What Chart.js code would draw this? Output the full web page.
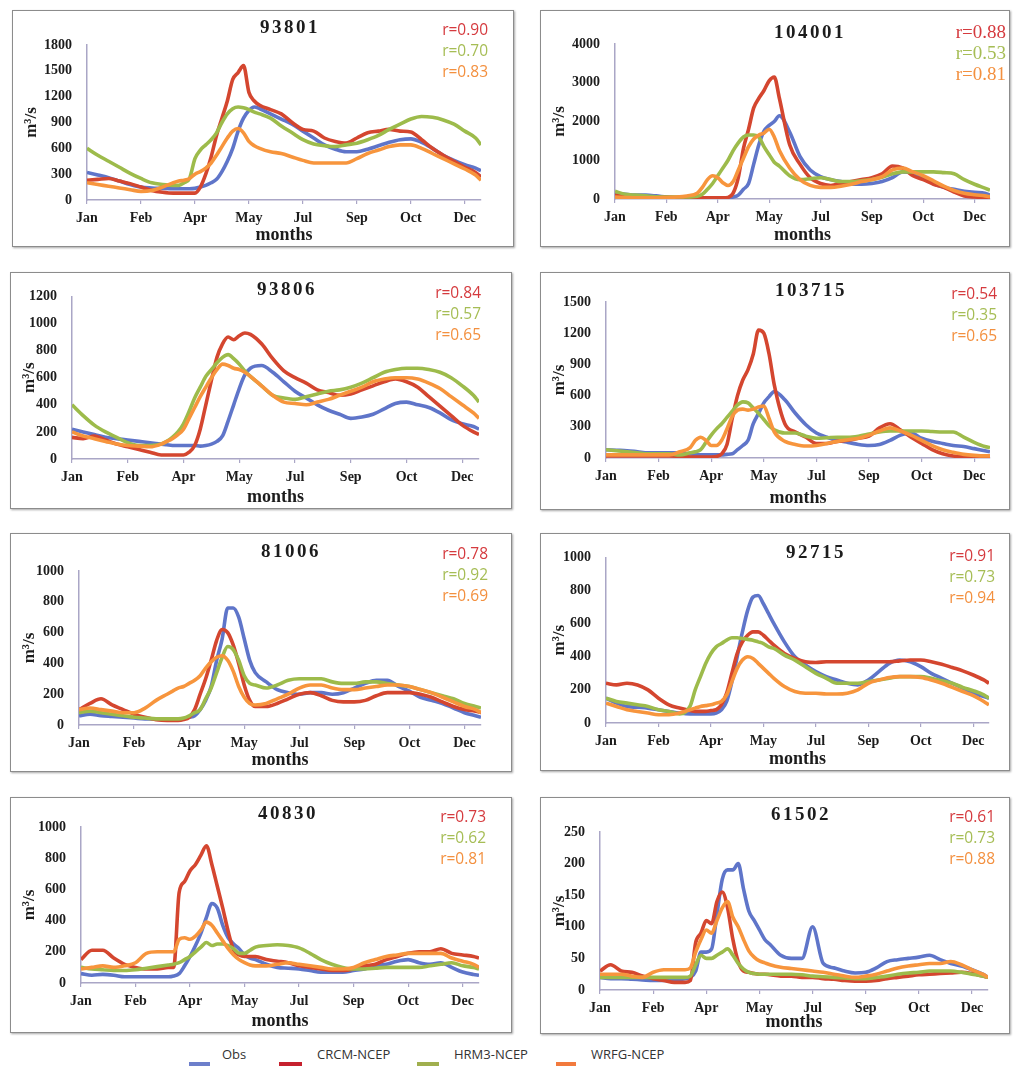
<!DOCTYPE html>
<html>
<head>
<meta charset="utf-8">
<title>Daily mean streamflow at eight stations</title>
<script src="https://cdn.jsdelivr.net/npm/chart.js@4.4.1/dist/chart.umd.min.js"></script>
<style>
  html, body { margin: 0; padding: 0; background: #ffffff; }
  body { position: relative; width: 1013px; height: 1076px; overflow: hidden; }
  .panel { position: absolute; border: 1px solid #8c8c8c; box-shadow: 1px 1px 2px rgba(0,0,0,0.35); background: #fff; }
  .panel canvas { display: block; }
  .swatch { position: absolute; height: 4px; }
  .keylabel { position: absolute; font-family: "Open Sans", sans-serif; font-size: 13px; line-height: 18px; color: #333; white-space: nowrap; }
</style>
</head>
<body>
<script>
// ---------- data ----------
// day of year at which each value is sampled (denser through the spring freshet)
const days = [0,10,20,30,40,50,60,70,80,85, 90,95,100,105,110,115,120,125,130,135,
              140,145,150,155,160,170,180,190,200,210, 220,230,240,250,260,270,280,290,300,310,
              320,330,340,350,360,365];

const tickDays   = [0, 50, 100, 150, 200, 250, 300, 350];
const tickMonths = ['Jan', 'Feb', 'Apr', 'May', 'Jul', 'Sep', 'Oct', 'Dec'];

const seriesNames = ['Obs', 'CRCM-NCEP', 'HRM3-NCEP', 'WRFG-NCEP'];
const stations    = ['93801', '104001', '93806', '103715', '81006', '92715', '40830', '61502'];
const yMaxima     = [1800, 4000, 1200, 1500, 1000, 1000, 1000, 250];
const yStepSizes  = [300, 1000, 200, 300, 200, 200, 200, 50];

// correlation with observations (CRCM, HRM3, WRFG)
const rCRCM = [0.90, 0.88, 0.84, 0.54, 0.78, 0.91, 0.73, 0.61];
const rHRM3 = [0.70, 0.53, 0.57, 0.35, 0.92, 0.73, 0.62, 0.73];
const rWRFG = [0.83, 0.81, 0.65, 0.65, 0.69, 0.94, 0.81, 0.88];

// 93801
const obs93801  = [320,290,260,220,180,150,140,135,130,130, 130,130,135,150,170,200,240,330,450,600, 800,950,1040,1080,1060,1000,940,880,800,720, 640,590,560,560,590,630,670,700,710,670, 600,520,460,410,370,340];
const crcm93801 = [230,240,250,220,190,150,110,90,80,80, 80,80,80,150,300,500,750,950,1150,1400, 1480,1560,1250,1150,1100,1050,1000,900,820,800, 720,680,660,720,780,800,820,800,790,700, 600,520,450,380,320,270];
const hrm93801  = [600,520,450,380,310,250,200,180,170,170, 200,250,480,580,640,700,780,900,1000,1060, 1080,1070,1050,1020,1000,950,860,780,700,650, 630,620,640,660,700,750,820,880,940,970, 960,930,880,800,720,640];
const wrfg93801 = [200,180,160,140,120,100,110,150,200,220, 230,250,300,330,370,430,520,620,720,800, 830,780,680,630,600,560,540,500,460,430, 430,430,430,480,540,580,620,640,640,600, 540,480,420,360,290,230];

// 104001
const obs104001  = [150,120,100,100,80,50,30,30,30,30, 30,30,30,30,30,50,100,250,400,900, 1400,1750,1900,2000,2150,1730,1100,750,580,500, 450,380,380,400,450,550,700,660,550,400, 300,250,200,170,150,100];
const crcm104001 = [100,80,50,50,50,50,40,30,30,30, 30,30,30,30,40,150,550,1300,1800,2350, 2600,2800,3050,3150,2600,1400,900,550,400,350, 400,450,500,550,650,850,800,600,500,380, 300,180,80,50,40,30];
const hrm104001  = [200,120,100,80,60,50,50,50,70,120, 250,400,600,800,1000,1250,1450,1600,1650,1650, 1600,1350,1150,950,850,600,500,520,550,500, 450,450,470,500,560,650,700,700,700,700, 680,650,500,380,280,230];
const wrfg104001 = [50,40,30,30,30,40,50,80,150,300, 500,600,550,420,350,450,750,1050,1350,1550, 1650,1700,1800,1600,1250,800,500,350,300,300, 330,380,450,500,580,750,800,700,600,470, 330,220,150,110,80,60];

// 93806
const obs93806  = [220,200,180,160,150,140,130,120,110,105, 100,100,100,100,100,95,100,110,130,170, 280,400,520,620,670,690,640,570,500,450, 400,360,330,300,310,330,370,410,420,400, 380,340,290,260,240,220];
const crcm93806 = [160,150,170,140,110,90,70,50,30,30, 30,30,30,50,100,220,400,580,750,850, 900,880,910,930,920,850,740,650,600,560, 510,490,470,480,510,540,570,590,570,530, 460,390,320,250,200,180];
const hrm93806  = [400,320,250,200,160,120,100,100,110,130, 160,200,260,350,450,530,610,660,710,750, 770,740,700,650,610,540,470,450,440,460, 480,500,510,530,560,600,640,660,670,670, 660,640,600,540,470,420];
const wrfg93806 = [200,170,150,130,110,100,95,90,110,130, 150,180,220,300,380,460,530,600,660,700, 690,670,660,640,610,540,470,420,410,400, 420,440,470,500,530,570,590,600,600,590, 560,520,460,400,340,300];

// 103715
const obs103715  = [80,75,70,60,50,50,50,50,40,35, 30,30,30,30,30,35,40,80,120,170, 330,430,530,590,640,560,430,320,240,200, 170,150,130,120,130,170,220,240,190,160, 140,120,110,90,70,60];
const crcm103715 = [20,20,20,20,20,20,20,15,10,10, 10,10,10,15,40,130,380,600,750,850, 1000,1230,1200,1000,700,330,250,200,140,140, 160,170,190,210,290,330,270,200,140,80, 40,20,15,10,10,10];
const hrm103715  = [80,70,60,50,40,40,40,30,50,60, 80,150,220,280,330,390,450,510,540,530, 480,430,370,310,270,240,240,210,190,195, 200,200,210,230,250,260,260,260,260,255, 250,250,200,150,110,100];
const wrfg103715 = [30,30,30,30,30,30,30,60,100,170, 200,170,120,120,170,280,400,460,470,460, 470,490,500,380,250,160,130,115,120,140, 160,175,190,220,260,290,260,220,170,120, 80,55,35,25,20,20];

// 81006
const obs81006  = [60,70,60,55,50,45,40,38,35,35, 38,40,50,60,100,160,250,420,560,760, 760,700,560,420,340,280,230,210,200,210, 210,200,210,240,270,290,290,250,220,180, 160,140,110,80,60,50];
const crcm81006 = [100,140,170,130,100,70,50,35,30,30, 30,35,50,100,200,300,420,550,620,600, 520,400,260,160,120,120,140,170,200,210, 190,160,150,150,160,190,210,210,210,200, 180,150,120,100,90,80];
const hrm81006  = [80,90,80,70,60,50,45,40,40,40, 40,45,60,80,100,170,240,340,440,510, 490,420,320,270,260,240,260,290,300,300, 300,280,270,270,280,280,270,260,250,230, 210,190,170,140,120,110];
const wrfg81006 = [100,110,100,90,80,80,110,160,200,220, 240,250,270,290,320,370,410,440,450,420, 350,250,180,140,130,140,170,200,240,260, 260,240,230,230,240,250,260,260,250,230, 210,180,150,120,100,80];

// 92715
const obs92715  = [150,120,100,95,90,80,70,60,55,55, 55,55,55,60,80,130,250,400,550,680, 760,770,720,660,600,490,400,350,310,280, 260,240,230,260,310,360,380,370,340,300, 270,240,210,180,160,150];
const crcm92715 = [240,230,240,230,200,150,110,90,75,70, 70,70,75,80,110,180,300,420,490,530, 550,550,530,500,470,420,390,370,365,370, 370,370,370,370,370,370,375,380,380,370, 355,335,315,290,260,240];
const hrm92715  = [150,130,120,110,100,80,70,55,100,200, 280,360,420,460,480,500,515,515,510,505, 500,490,480,460,450,410,380,340,300,270, 240,240,240,250,260,270,280,280,280,270, 255,240,215,195,170,150];
const wrfg92715 = [120,100,80,70,60,50,50,60,80,90, 100,105,110,120,130,170,250,330,380,400, 390,360,330,300,270,220,190,180,180,175, 175,180,200,240,260,275,280,280,275,260, 240,215,190,165,130,110];

// 40830
const obs40830  = [60,50,55,50,40,40,40,40,40,45, 60,110,170,240,320,420,510,480,370,290, 250,220,180,160,150,120,100,95,90,80, 70,70,70,80,90,110,120,140,150,130, 120,130,100,70,55,50];
const crcm40830 = [150,210,210,160,120,100,90,90,100,100, 580,650,720,760,820,880,760,620,480,330, 210,180,170,170,170,150,140,130,110,100, 90,80,80,90,110,120,150,170,190,200, 200,220,190,180,170,160];
const hrm40830  = [100,90,85,80,80,85,95,105,115,120, 130,150,170,200,230,260,240,250,250,240, 220,190,190,210,230,240,245,240,225,190, 150,120,100,90,90,95,100,100,100,100, 110,120,130,110,100,90];
const wrfg40830 = [90,100,110,100,110,130,190,200,200,200, 280,290,280,300,340,390,370,320,270,220, 180,150,130,115,110,110,120,130,120,110, 100,90,90,100,130,150,170,180,190,190, 190,190,160,140,120,100];

// 61502
const obs61502  = [20,18,18,17,16,15,15,15,18,20, 30,60,60,65,120,175,190,190,200,160, 125,110,95,80,72,55,50,50,100,42, 35,30,27,28,35,45,48,50,52,55, 48,42,38,32,25,20];
const crcm61502 = [30,40,30,28,22,18,15,12,12,15, 75,90,110,105,140,155,130,80,45,30, 28,26,25,25,24,22,22,20,20,18, 17,15,14,14,15,18,20,22,24,25, 26,27,28,26,22,20];
const hrm61502  = [20,20,20,20,20,20,20,20,20,22, 40,55,50,50,55,60,65,55,42,33, 28,26,25,25,25,25,25,24,22,21, 20,19,18,18,20,22,25,27,28,30, 30,30,28,25,22,20];
const wrfg61502 = [25,25,25,22,20,28,32,32,32,35, 60,80,95,90,110,130,140,115,100,80, 62,52,46,43,40,36,34,32,30,28, 25,22,20,22,25,30,35,38,40,42, 42,45,40,32,25,20];

const panelSeries = [
  [obs93801,  crcm93801,  hrm93801,  wrfg93801],
  [obs104001, crcm104001, hrm104001, wrfg104001],
  [obs93806,  crcm93806,  hrm93806,  wrfg93806],
  [obs103715, crcm103715, hrm103715, wrfg103715],
  [obs81006,  crcm81006,  hrm81006,  wrfg81006],
  [obs92715,  crcm92715,  hrm92715,  wrfg92715],
  [obs40830,  crcm40830,  hrm40830,  wrfg40830],
  [obs61502,  crcm61502,  hrm61502,  wrfg61502]
];

// ---------- styling & layout ----------
const lineColors   = ['#5f75c9', '#d4462f', '#9dbb4b', '#f7953d'];
const swatchColors = ['#6d7fcb', '#c6212e', '#a0af4e', '#f27a3d'];
const rColors      = ['#d53a3e', '#a6bd55', '#f3903f'];
const axisColor    = '#aaa6c6';
const textColor    = '#1c1c1c';
const serif        = '"Liberation Serif", "Times New Roman", serif';
const sans         = '"Open Sans", "Liberation Sans", sans-serif';

// outer frame (page px) and plot area edges (page px) of each panel
const frames = [
  { x: 12,  y: 10,  w: 502, h: 237, l: 87,  r: 481, t: 45,  b: 200 },
  { x: 540, y: 10,  w: 470, h: 237, l: 615, r: 990, t: 44,  b: 199 },
  { x: 10,  y: 272, w: 502, h: 237, l: 72,  r: 479, t: 293, b: 459 },
  { x: 540, y: 272, w: 470, h: 238, l: 606, r: 990, t: 302, b: 458 },
  { x: 10,  y: 533, w: 502, h: 239, l: 79,  r: 481, t: 571, b: 725 },
  { x: 540, y: 533, w: 470, h: 238, l: 606, r: 989, t: 555, b: 723 },
  { x: 10,  y: 797, w: 502, h: 236, l: 81,  r: 479, t: 827, b: 983 },
  { x: 540, y: 797, w: 470, h: 237, l: 600, r: 988, t: 832, b: 990 }
];
// station label centre and correlation block (right edge, first line centre), page px
const labelSpots = [
  { tx: 290, ty: 28,  rx: 488,  ry: 31,  rFont: '15.5px ' + sans },
  { tx: 810, ty: 33,  rx: 1006, ry: 33,  rFont: '19px ' + serif },
  { tx: 287, ty: 290, rx: 481,  ry: 294, rFont: '15.5px ' + sans },
  { tx: 811, ty: 291, rx: 997,  ry: 295, rFont: '15.5px ' + sans },
  { tx: 291, ty: 552, rx: 488,  ry: 555, rFont: '15.5px ' + sans },
  { tx: 816, ty: 553, rx: 995,  ry: 557, rFont: '15.5px ' + sans },
  { tx: 288, ty: 814, rx: 486,  ry: 818, rFont: '15.5px ' + sans },
  { tx: 801, ty: 815, rx: 995,  ry: 818, rFont: '15.5px ' + sans }
];
// shared key below the panels: swatch left/width, label left (page px)
const keySpots = [
  { sx: 189, sw: 21, lx: 222 },
  { sx: 279, sw: 23, lx: 317 },
  { sx: 417, sw: 22, lx: 454 },
  { sx: 556, sw: 20, lx: 591 }
];

// draws the station id and the r values inside each panel
const panelText = {
  id: 'panelText',
  afterDraw(chart, args, o) {
    const ctx = chart.ctx;
    ctx.save();
    ctx.textBaseline = 'middle';
    ctx.fillStyle = textColor;
    ctx.font = 'bold 19px ' + serif;
    ctx.letterSpacing = '2.5px';
    ctx.textAlign = 'center';
    ctx.fillText(o.title, o.tx, o.ty);
    ctx.letterSpacing = '0px';
    ctx.font = o.rFont;
    ctx.textAlign = 'right';
    o.rValues.forEach((v, i) => {
      ctx.fillStyle = rColors[i];
      ctx.fillText('r=' + v.toFixed(2), o.rx, o.ry + i * 21);
    });
    ctx.restore();
  }
};
Chart.register(panelText);

stations.forEach((id, p) => {
  const f = frames[p];
  const spot = labelSpots[p];
  const innerX = f.x + 1, innerY = f.y + 1;
  const cw = f.w - 2, ch = f.h - 2;

  const box = document.createElement('div');
  box.className = 'panel';
  box.style.left = f.x + 'px';
  box.style.top = f.y + 'px';
  box.style.width = cw + 'px';
  box.style.height = ch + 'px';
  const canvas = document.createElement('canvas');
  canvas.width = cw;
  canvas.height = ch;
  box.appendChild(canvas);
  document.body.appendChild(box);

  const yWidth  = f.l - innerX;
  const xHeight = innerY + ch - f.b;

  new Chart(canvas, {
    type: 'line',
    data: {
      datasets: panelSeries[p].map((vals, k) => ({
        label: seriesNames[k],
        data: days.map((d, i) => ({ x: d, y: vals[i] })),
        borderColor: lineColors[k],
        backgroundColor: lineColors[k],
        borderWidth: 3.6,
        pointRadius: 0,
        cubicInterpolationMode: 'monotone',
        order: 4 - k
      }))
    },
    options: {
      responsive: false,
      animation: false,
      events: [],
      layout: { padding: { left: 0, bottom: 0, top: f.t - innerY, right: innerX + cw - f.r } },
      plugins: {
        legend: { display: false },
        tooltip: { enabled: false },
        panelText: {
          title: id,
          tx: spot.tx - innerX, ty: spot.ty - innerY,
          rx: spot.rx - innerX, ry: spot.ry - innerY,
          rFont: spot.rFont,
          rValues: [rCRCM[p], rHRM3[p], rWRFG[p]]
        }
      },
      scales: {
        x: {
          type: 'linear',
          min: 0,
          max: 365,
          afterBuildTicks: s => { s.ticks = tickDays.map(v => ({ value: v })); },
          afterFit: s => { s.height = xHeight; },
          ticks: {
            callback: v => tickMonths[tickDays.indexOf(v)],
            font: { family: serif, size: 14, weight: 'bold' },
            color: textColor,
            padding: 6,
            maxRotation: 0,
            autoSkip: false
          },
          grid: { display: true, drawOnChartArea: false, drawTicks: true, tickLength: 4, color: axisColor, lineWidth: 1.2 },
          border: { display: true, color: axisColor, width: 1.5 },
          title: { display: true, text: 'months', color: textColor,
                   font: { family: serif, size: 18, weight: 'bold' }, padding: { top: 0, bottom: 0 } }
        },
        y: {
          min: 0,
          max: yMaxima[p],
          afterFit: s => { s.width = yWidth; },
          ticks: {
            stepSize: yStepSizes[p],
            callback: v => String(v),
            font: { family: serif, size: 14, weight: 'bold' },
            color: textColor,
            padding: 15
          },
          grid: { display: true, drawOnChartArea: false, drawTicks: false, color: axisColor },
          border: { display: true, color: axisColor, width: 1.5 },
          title: { display: true, text: 'm³/s', color: textColor,
                   font: { family: serif, size: 17, weight: 'bold' }, padding: { top: 8, bottom: 0 } }
        }
      }
    }
  });
});

// shared key
seriesNames.forEach((name, k) => {
  const s = keySpots[k];
  const sw = document.createElement('div');
  sw.className = 'swatch';
  sw.style.left = s.sx + 'px';
  sw.style.top = '1062px';
  sw.style.width = s.sw + 'px';
  sw.style.background = swatchColors[k];
  document.body.appendChild(sw);
  const lb = document.createElement('div');
  lb.className = 'keylabel';
  lb.style.left = s.lx + 'px';
  lb.style.top = '1045px';
  lb.textContent = name;
  document.body.appendChild(lb);
});
</script>
</body>
</html>
